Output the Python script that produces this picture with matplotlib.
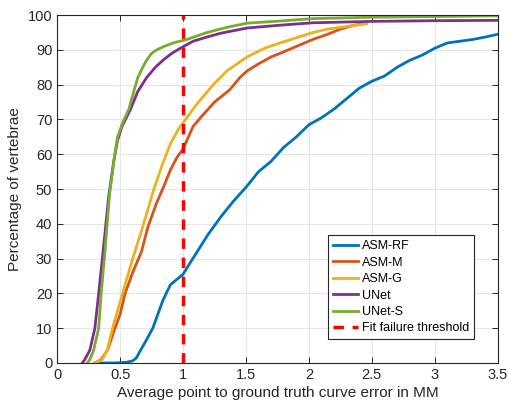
import matplotlib.pyplot as plt

plt.rcParams['font.family'] = ['Liberation Sans', 'DejaVu Sans']

# curva ASM-RF
rf_x = [0.30, 0.45, 0.55, 0.60, 0.63, 0.66, 0.70, 0.76, 0.84, 0.90, 0.95, 1.00, 1.06, 1.13, 1.20,
        1.30, 1.40, 1.50, 1.60, 1.70, 1.80, 1.90, 2.00, 2.10, 2.20, 2.30, 2.40, 2.50, 2.60,
        2.70, 2.80, 2.90, 3.00, 3.10, 3.20, 3.30, 3.40, 3.50]
rf_y = [0, 0, 0.2, 0.6, 1.5, 3.5, 6, 10, 18, 22.5, 24, 25.5, 29, 33, 37,
        42, 46.5, 50.5, 55, 58, 62, 65, 68.5, 70.5, 73, 76, 79, 81, 82.5,
        85, 87, 88.5, 90.5, 92, 92.5, 93, 93.7, 94.5]

# curva ASM-M
m_x = [0.30, 0.35, 0.40, 0.46, 0.50, 0.54, 0.60, 0.67, 0.72, 0.79, 0.85, 0.90, 0.95, 1.00,
       1.08, 1.15, 1.25, 1.37, 1.45, 1.51, 1.60, 1.70, 1.77, 1.90, 2.03, 2.15, 2.25, 2.35, 2.42]
m_y = [0, 1, 3.7, 10, 14, 20, 26, 32, 39, 46, 51, 55.5, 59, 61.5,
       68, 71, 75, 78.5, 82, 84, 86, 88, 89, 91, 93, 94.5, 96, 97, 97.5]

# curva ASM-G
g_x = [0.30, 0.36, 0.40, 0.44, 0.48, 0.52, 0.56, 0.60, 0.67, 0.72, 0.76, 0.84, 0.90, 0.96,
       1.00, 1.10, 1.24, 1.35, 1.51, 1.65, 1.77, 1.90, 2.03, 2.15, 2.25, 2.35, 2.46]
g_y = [0, 1, 4, 10, 15, 20, 25, 30, 38, 44, 49, 57.5, 63, 67,
       69, 74, 80, 84, 88, 90.5, 92, 93.5, 95, 96, 96.5, 97, 97.5]

# curva UNet
u_x = [0.20, 0.22, 0.26, 0.30, 0.33, 0.365, 0.41, 0.45, 0.48, 0.515, 0.58, 0.64, 0.71,
       0.78, 0.84, 0.91, 0.98, 1.08, 1.19, 1.30, 1.51, 1.77, 2.03, 2.50, 3.00, 3.50]
u_y = [0, 1, 3.7, 10, 20, 32, 48, 58, 64, 68, 72.7, 78, 82,
       85, 87, 89, 90.5, 92.5, 93.7, 94.8, 96.3, 97.1, 97.8, 98.2, 98.4, 98.5]

# curva UNet-S
s_x = [0.24, 0.26, 0.29, 0.33, 0.35, 0.38, 0.415, 0.45, 0.48, 0.52, 0.57, 0.64, 0.68, 0.71,
       0.75, 0.79, 0.85, 0.92, 1.03, 1.19, 1.35, 1.51, 1.77, 2.03, 2.50, 3.00, 3.50]
s_y = [0, 1, 3.7, 10, 20, 32, 48, 58, 65, 69, 73, 82, 85, 87,
       89, 90, 91, 92, 93, 95, 96.5, 97.7, 98.3, 99, 99.4, 99.6, 99.8]

umbral = 1.0

fig = plt.figure(figsize=(5.1, 4.09), dpi=100)
ax = fig.add_axes([0.112, 0.1125, 0.864, 0.8505])

lw = 2.0
ax.plot(rf_x, rf_y, color='#0072BD', lw=lw, label='ASM-RF')
ax.plot(m_x, m_y, color='#D95319', lw=lw, label='ASM-M')
ax.plot(g_x, g_y, color='#EDB120', lw=lw, label='ASM-G')
ax.plot(u_x, u_y, color='#7E2F8E', lw=lw, label='UNet')
ax.plot(s_x, s_y, color='#77AC30', lw=lw, label='UNet-S')
ax.axvline(umbral, color='#FF0000', ls=(0, (3, 2.5)), lw=2.5, label='Fit failure threshold')

#Propiedades de la Grafica
ax.set_xlim(0, 3.5)
ax.set_ylim(0, 100)
ax.set_xticks([0, 0.5, 1, 1.5, 2, 2.5, 3, 3.5])
ax.set_xticklabels(['0', '0.5', '1', '1.5', '2', '2.5', '3', '3.5'])
ax.set_yticks(range(0, 101, 10))
ax.grid(color='#e6e6e6', lw=0.8)
ax.set_axisbelow(True)
ax.tick_params(direction='in', top=True, right=True, length=4, width=0.7,
               color='#262626', labelcolor='#262626', labelsize=10.5)
for sp in ax.spines.values():
    sp.set_color('#262626')
    sp.set_linewidth(0.8)

ax.set_xlabel('Average point to ground truth curve error in MM', fontsize=11, color='#262626', labelpad=3)
ax.set_ylabel('Percentage of vertebrae', fontsize=11, color='#262626', labelpad=4)

leg = ax.legend(loc='lower right', bbox_to_anchor=(0.96, 0.05), fontsize=9,
                fancybox=False, edgecolor='#262626', framealpha=1,
                handlelength=2.0, handletextpad=0.3, labelspacing=0.35, borderpad=0.4)
leg.get_frame().set_linewidth(0.8)

plt.savefig('out.png', dpi=100)
